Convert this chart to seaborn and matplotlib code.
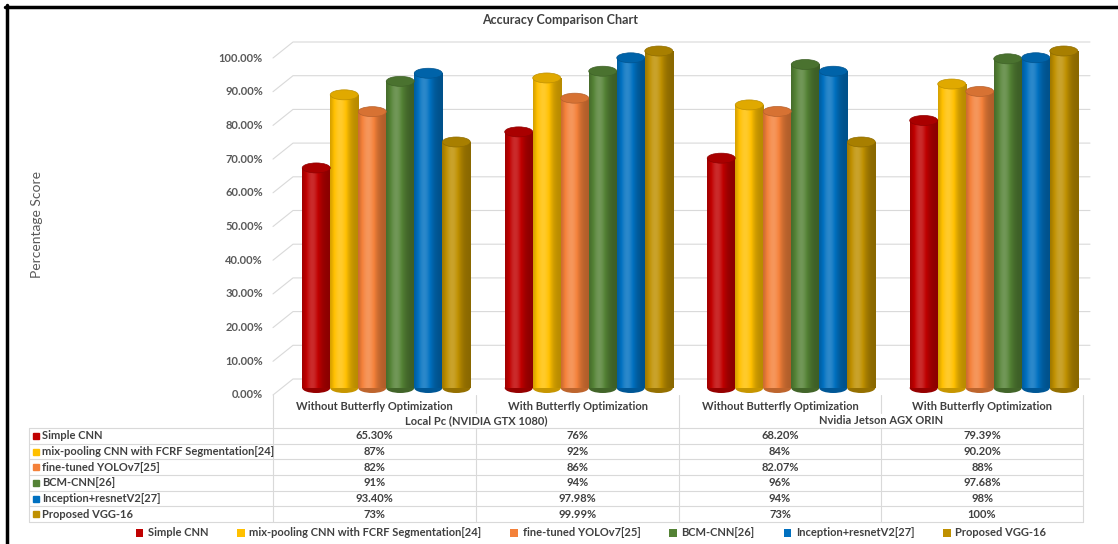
import numpy as np
import pandas as pd
import matplotlib
matplotlib.use("Agg")
import matplotlib.pyplot as plt
import seaborn as sns
from matplotlib.patches import Ellipse, Rectangle
from matplotlib.ticker import PercentFormatter
from matplotlib.transforms import ScaledTranslation

# categories
devices = ["Local Pc (NVIDIA GTX 1080)", "Nvidia Jetson AGX ORIN"]
settings = ["Without Butterfly Optimization", "With Butterfly Optimization"]
models = ["Simple CNN", "mix-pooling CNN with FCRF Segmentation[24]",
          "fine-tuned YOLOv7[25]", "BCM-CNN[26]", "Inception+resnetV2[27]",
          "Proposed VGG-16"]
colors = ["#C00000", "#FFC000", "#F4813A", "#548235", "#0070C0", "#BF9000"]

# values as printed in the data table (one list per model)
simple_cnn = ["65.30%", "76%", "68.20%", "79.39%"]
mix_pooling = ["87%", "92%", "84%", "90.20%"]
yolov7 = ["82%", "86%", "82.07%", "88%"]
bcm_cnn = ["91%", "94%", "96%", "97.68%"]
inception = ["93.40%", "97.98%", "94%", "98%"]
vgg16 = ["73%", "99.99%", "73%", "100%"]
table_rows = [simple_cnn, mix_pooling, yolov7, bcm_cnn, inception, vgg16]

groups = [f"{d} | {s}" for d in devices for s in settings]
records = []
for m, vals in zip(models, table_rows):
    for g, v in zip(groups, vals):
        records.append({"group": g, "model": m, "score": float(v.rstrip("%")) / 100})
df = pd.DataFrame(records)

sns.set_theme(style="white")
plt.rcParams["font.family"] = ["Lato", "DejaVu Sans"]
TXT = "#404040"
GRID = "#D9D9D9"
FS = 8

W, H = 1118, 544
fig = plt.figure(figsize=(W / 100, H / 100), dpi=100)
fig.patch.set_facecolor("white")

# background overlay in pixel coords (top-left origin)
bg = fig.add_axes([0, 0, 1, 1], zorder=-1)
bg.set_xlim(0, W)
bg.set_ylim(H, 0)
bg.axis("off")

ax = fig.add_axes([285 / W, (H - 388) / H, 810 / W, 337 / H])
ax.set_facecolor("none")
sns.barplot(data=df, x="group", y="score", hue="model", order=groups,
            hue_order=models, palette=colors, width=0.83, saturation=1,
            linewidth=0, ax=ax)

# turn flat bars into shaded cylinders
ell_h = 10 / 337
t = np.linspace(0, 1, 64)
shade = 0.72 + 0.45 * np.exp(-((t - 0.35) / 0.3) ** 2)


def shaded(rgb, f):
    rgb = np.asarray(rgb[:3])
    if f <= 1:
        return rgb * f
    return rgb + (1 - rgb) * (f - 1)


for p in list(ax.patches):
    if not isinstance(p, Rectangle):
        continue
    x0, w, h = p.get_x(), p.get_width(), p.get_height()
    if w == 0 or h == 0:
        continue
    c = p.get_facecolor()
    img = np.array([[shaded(c, f) for f in shade]])
    im = ax.imshow(img, extent=(x0, x0 + w, 0, h), aspect="auto",
                   interpolation="bilinear", zorder=p.get_zorder() + 0.1)
    im.set_clip_path(p)
    ax.add_patch(Ellipse((x0 + w / 2, 0), w, ell_h, facecolor=shaded(c, 0.78),
                         lw=0, zorder=p.get_zorder() + 0.05, clip_on=False))
    ax.add_patch(Ellipse((x0 + w / 2, h), w, ell_h, facecolor=shaded(c, 0.88),
                         edgecolor=shaded(c, 0.75), lw=0.5,
                         zorder=p.get_zorder() + 0.2, clip_on=False))

ax.set_xlim(-0.5, 3.5)
ax.set_ylim(0, 1.0)
ticks = np.round(np.arange(0, 1.01, 0.1), 2)
ax.set_yticks(ticks)
ax.yaxis.set_major_formatter(PercentFormatter(1.0, decimals=2))
ax.tick_params(axis="y", labelsize=FS, colors="#595959", pad=16, length=0)
ax.set_xticks([])
ax.set_xlabel("")
ax.set_ylabel("")
sns.despine(ax=ax, left=True, bottom=True)
off = ScaledTranslation(0, -6 / 100, fig.dpi_scale_trans)
for lbl in ax.get_yticklabels():
    lbl.set_fontweight("bold")
    lbl.set_transform(lbl.get_transform() + off)

# 3D-looking gridlines on the back wall
for v in ticks:
    yb = H - ax.transData.transform((0, v))[1]
    bg.plot([273, 293, 1090], [yb + 7, yb - 9, yb - 9], color=GRID, lw=0.8)

# legend at the bottom
sns.move_legend(ax, "center", bbox_to_anchor=(591 / W, (H - 533) / H),
                bbox_transform=fig.transFigure, ncol=6, frameon=False,
                title=None, fontsize=FS, handlelength=0.7, handleheight=0.7,
                columnspacing=2.6, handletextpad=0.4)
for txt in ax.get_legend().get_texts():
    txt.set_fontweight("bold")
    txt.set_color(TXT)

# data table
col_edges = [29, 273, 476, 679, 881, 1083]
row_top, row_h = 428, 94 / 6
tab_bottom = row_top + 6 * row_h
kw = dict(color=GRID, lw=0.8)
bg.plot([29, 1083], [row_top, row_top], **kw)
for i in range(1, 7):
    yy = row_top + i * row_h
    bg.plot([29, 1083], [yy, yy], **kw)
for x in [273, 679, 1083]:
    bg.plot([x, x], [395, tab_bottom], **kw)
for x in [476, 881]:
    bg.plot([x, x], [395, 413], **kw)
    bg.plot([x, x], [row_top, tab_bottom], **kw)
bg.plot([29, 29], [row_top, tab_bottom], **kw)

tkw = dict(fontsize=FS, fontweight="bold", color=TXT, va="center")
centers = [(col_edges[i] + col_edges[i + 1]) / 2 for i in range(1, 5)]
for j, g in enumerate(groups):
    bg.text(centers[j], 406, g.split(" | ")[1], ha="center", **tkw)
for k, d in enumerate(devices):
    bg.text((centers[2 * k] + centers[2 * k + 1]) / 2, 421, d, ha="center", **tkw)
for i, (m, c, vals) in enumerate(zip(models, colors, table_rows)):
    yc = row_top + (i + 0.5) * row_h
    bg.add_patch(Rectangle((33, yc - 3), 6, 6, color=c))
    bg.text(42, yc, m, ha="left", **tkw)
    for j, v in enumerate(vals):
        bg.text(centers[j], yc, v, ha="center", **tkw)

# title, axis label, frame
fig.text(560 / W, 1 - 20 / H, "Accuracy Comparison Chart", ha="center",
         va="center", fontsize=9, fontweight="bold", color=TXT)
fig.text(37 / W, 1 - 225 / H, "Percentage Score", rotation=90, ha="center",
         va="center", fontsize=10, color="#595959")
bg.plot([5, W], [7, 7], color="black", lw=2.5, clip_on=False)
bg.plot([7, 7], [5, H], color="black", lw=2.5, clip_on=False)

fig.savefig("out.png", dpi=100)
